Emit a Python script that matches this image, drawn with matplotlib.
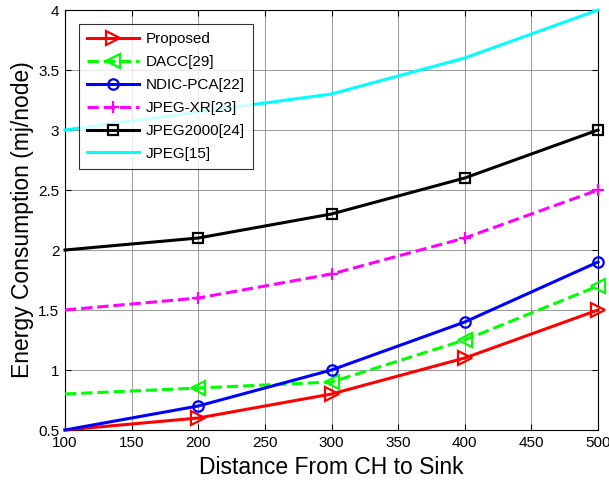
import matplotlib
matplotlib.use("Agg")
import matplotlib.pyplot as plt
from matplotlib.lines import Line2D

plt.rcParams['font.family'] = ['Liberation Sans', 'DejaVu Sans']

x = [100, 200, 300, 400, 500]
proposed = [0.5, 0.6, 0.8, 1.1, 1.5]
dacc = [0.8, 0.85, 0.9, 1.25, 1.7]
ndic = [0.5, 0.7, 1.0, 1.4, 1.9]
jpegxr = [1.5, 1.6, 1.8, 2.1, 2.5]
jpeg2000 = [2.0, 2.1, 2.3, 2.6, 3.0]
jpeg = [3.0, 3.15, 3.3, 3.6, 4.0]

labels = ['Proposed', 'DACC[29]', 'NDIC-PCA[22]', 'JPEG-XR[23]', 'JPEG2000[24]', 'JPEG[15]']
series = [proposed, dacc, ndic, jpegxr, jpeg2000, jpeg]
colors = ['#ff0000', '#00ff00', '#0000ff', '#ff00ff', '#000000', '#00ffff']
styles = ['-', '--', '-', '--', '-', '-']
markers = ['>', '<', 'o', '+', 's', None]
msizes = [10, 10, 7.5, 9, 7.5, 0]

fig = plt.figure(figsize=(6.09, 4.82), dpi=100)
ax = fig.add_axes([65/609, 1-430/482, (598-65)/609, 420/482])

lw = 2.2
handles = []
for ys, c, st, m, ms, lab in zip(series, colors, styles, markers, msizes, labels):
    ax.plot(x, ys, color=c, ls=st, lw=lw, clip_on=False, zorder=5)
    if m is not None:
        ax.plot(x[1:], ys[1:], ls='none', marker=m, ms=ms, mfc='none', mec=c, mew=1.6,
                clip_on=False, zorder=6)
    handles.append(Line2D([], [], color=c, ls=st, lw=lw, marker=m, ms=ms,
                          mfc='none', mec=c, mew=1.6))

ax.set_xlim(100, 500)
ax.set_ylim(0.5, 4)
ax.set_xticks([100, 150, 200, 250, 300, 350, 400, 450, 500])
ax.set_yticks([0.5, 1, 1.5, 2, 2.5, 3, 3.5, 4])
ax.set_yticklabels(['0.5', '1', '1.5', '2', '2.5', '3', '3.5', '4'])
ax.grid(True, color='#808080', lw=0.7, alpha=0.8)
ax.set_axisbelow(True)
ax.tick_params(direction='in', labelsize=11, length=4, top=True, right=True, width=0.8, pad=4)
for s in ax.spines.values():
    s.set_linewidth(0.8)
ax.set_xlabel('Distance From CH to Sink', fontsize=16.5, labelpad=5)
ax.set_ylabel('Energy Consumption (mj/node)', fontsize=16.5, labelpad=3)

leg = ax.legend(handles, labels, loc='upper left', bbox_to_anchor=(14/533, 1-14/420), fontsize=11,
                handlelength=3.4, frameon=True, fancybox=False, edgecolor='black',
                borderaxespad=0, labelspacing=0.58, handletextpad=0.4, borderpad=0.55)
leg.get_frame().set_linewidth(0.8)
leg.set_zorder(10)

fig.savefig('out.png', dpi=100)
